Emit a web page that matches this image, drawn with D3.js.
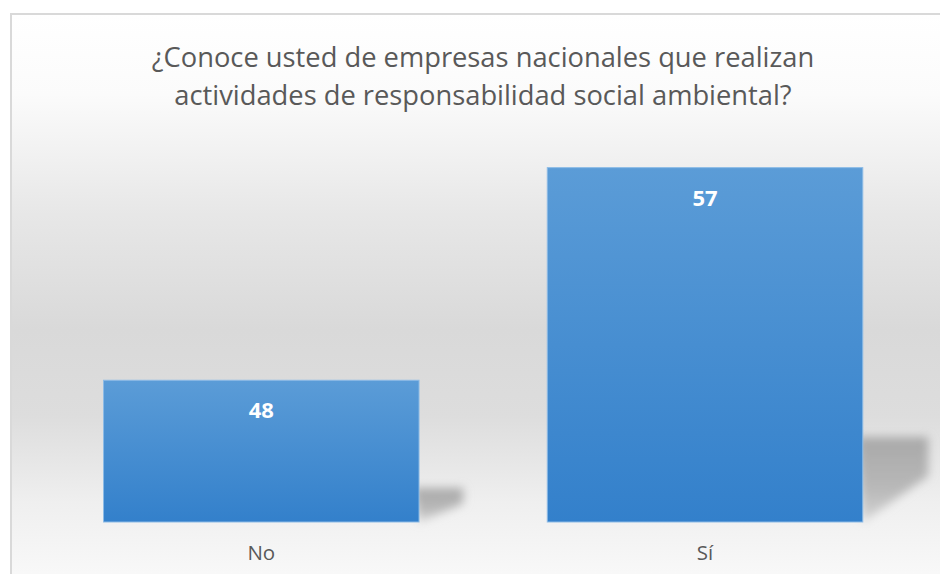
<!DOCTYPE html>
<html>
<head>
<meta charset="utf-8">
<script src="https://cdn.jsdelivr.net/npm/d3@7"></script>
<style>
  body { margin: 0; background: #fff; }
  svg { display: block; }
</style>
</head>
<body>
<div id="vis"></div>
<script>
// Chart data
const categories = ["No", "Sí"];
const values = [48, 57];
const titleLines = [
  "¿Conoce usted de empresas nacionales que realizan",
  "actividades de responsabilidad social ambiental?"
];
const yDomain = [42, 58]; // axis is hidden, Excel auto range

const W = 940, H = 574;
const svg = d3.select("#vis").append("svg")
  .attr("width", W)
  .attr("height", H);

const defs = svg.append("defs");

// chart area background gradient (white -> gray -> almost white)
const bg = defs.append("linearGradient")
  .attr("id", "bgGrad")
  .attr("x1", 0).attr("y1", 0).attr("x2", 0).attr("y2", 1);
[[0, "#ffffff"], [0.14, "#fbfbfb"], [0.35, "#e7e7e7"], [0.55, "#d9d9d9"],
 [0.7, "#dddddd"], [0.85, "#efefef"], [1, "#fafafa"]]
  .forEach(s => bg.append("stop").attr("offset", s[0]).attr("stop-color", s[1]));

// bar gradient
const barGrad = defs.append("linearGradient")
  .attr("id", "barGrad")
  .attr("x1", 0).attr("y1", 0).attr("x2", 0).attr("y2", 1);
barGrad.append("stop").attr("offset", 0).attr("stop-color", "#5b9cd7");
barGrad.append("stop").attr("offset", 1).attr("stop-color", "#3380cb");

// shadow gradient + blur
const shGrad = defs.append("linearGradient")
  .attr("id", "shGrad")
  .attr("x1", 0).attr("y1", 0).attr("x2", 0).attr("y2", 1);
shGrad.append("stop").attr("offset", 0).attr("stop-color", "#a8a8a8");
shGrad.append("stop").attr("offset", 0.6).attr("stop-color", "#b8b8b8");
shGrad.append("stop").attr("offset", 1).attr("stop-color", "#d4d4d4");

defs.append("filter")
  .attr("id", "blur")
  .attr("x", "-50%").attr("y", "-50%").attr("width", "200%").attr("height", "200%")
  .append("feGaussianBlur")
  .attr("stdDeviation", 5);

// frame
svg.append("rect")
  .attr("x", 11)
  .attr("y", 14)
  .attr("width", W)
  .attr("height", H)
  .attr("fill", "url(#bgGrad)")
  .attr("stroke", "#d9d9d9")
  .attr("stroke-width", 2);

// Title
svg.append("text")
  .attr("x", 483)
  .attr("y", 67)
  .attr("text-anchor", "middle")
  .attr("font-family", "'Open Sans', sans-serif")
  .attr("font-size", "27.3px")
  .attr("fill", "#595959")
  .selectAll("tspan")
  .data(titleLines)
  .join("tspan")
  .attr("x", 483)
  .attr("dy", (d, i) => i === 0 ? 0 : 38)
  .text(d => d);

// scales
const x = d3.scaleBand()
  .domain(categories)
  .range([39.4, 926.9])
  .paddingInner(0.289)
  .paddingOuter(0.1445);

const y = d3.scaleLinear()
  .domain(yDomain)
  .range([522, 144]);

const data = categories.map((c, i) => ({ cat: c, value: values[i] }));
const base = y(yDomain[0]);

// perspective shadows
svg.append("g")
  .selectAll("path")
  .data(data)
  .join("path")
  .attr("d", d => {
    const right = x(d.cat) + x.bandwidth();
    const h = base - y(d.value);
    const dx = 30 + 0.1 * h;
    const top = base - 0.24 * h;
    const mid = base - 0.13 * h;
    return `M${right - 6},${top}L${right + dx},${top}L${right + dx},${mid}L${right},${base}Z`;
  })
  .attr("fill", "url(#shGrad)")
  .attr("filter", "url(#blur)");

// bars
svg.append("g")
  .selectAll("rect")
  .data(data)
  .join("rect")
  .attr("x", d => x(d.cat))
  .attr("y", d => y(d.value))
  .attr("width", x.bandwidth())
  .attr("height", d => base - y(d.value))
  .attr("fill", "url(#barGrad)")
  .attr("stroke", "#8dbbe6")
  .attr("stroke-width", 1);

// data labels
svg.append("g")
  .selectAll("text")
  .data(data)
  .join("text")
  .attr("x", d => x(d.cat) + x.bandwidth() / 2)
  .attr("y", d => y(d.value) + 38)
  .attr("text-anchor", "middle")
  .attr("font-family", "'Open Sans', sans-serif")
  .attr("font-weight", "bold")
  .attr("font-size", "22px")
  .attr("fill", "#ffffff")
  .text(d => d.value);

// category axis labels (no axis line)
const xAxis = svg.append("g")
  .attr("transform", `translate(0,${base})`)
  .call(d3.axisBottom(x).tickSize(0).tickPadding(0));
xAxis.select(".domain").remove();
xAxis.selectAll("text")
  .attr("dy", null)
  .attr("y", 38)
  .attr("font-family", "'Open Sans', sans-serif")
  .attr("font-size", "20.5px")
  .attr("fill", "#595959");
</script>
</body>
</html>
